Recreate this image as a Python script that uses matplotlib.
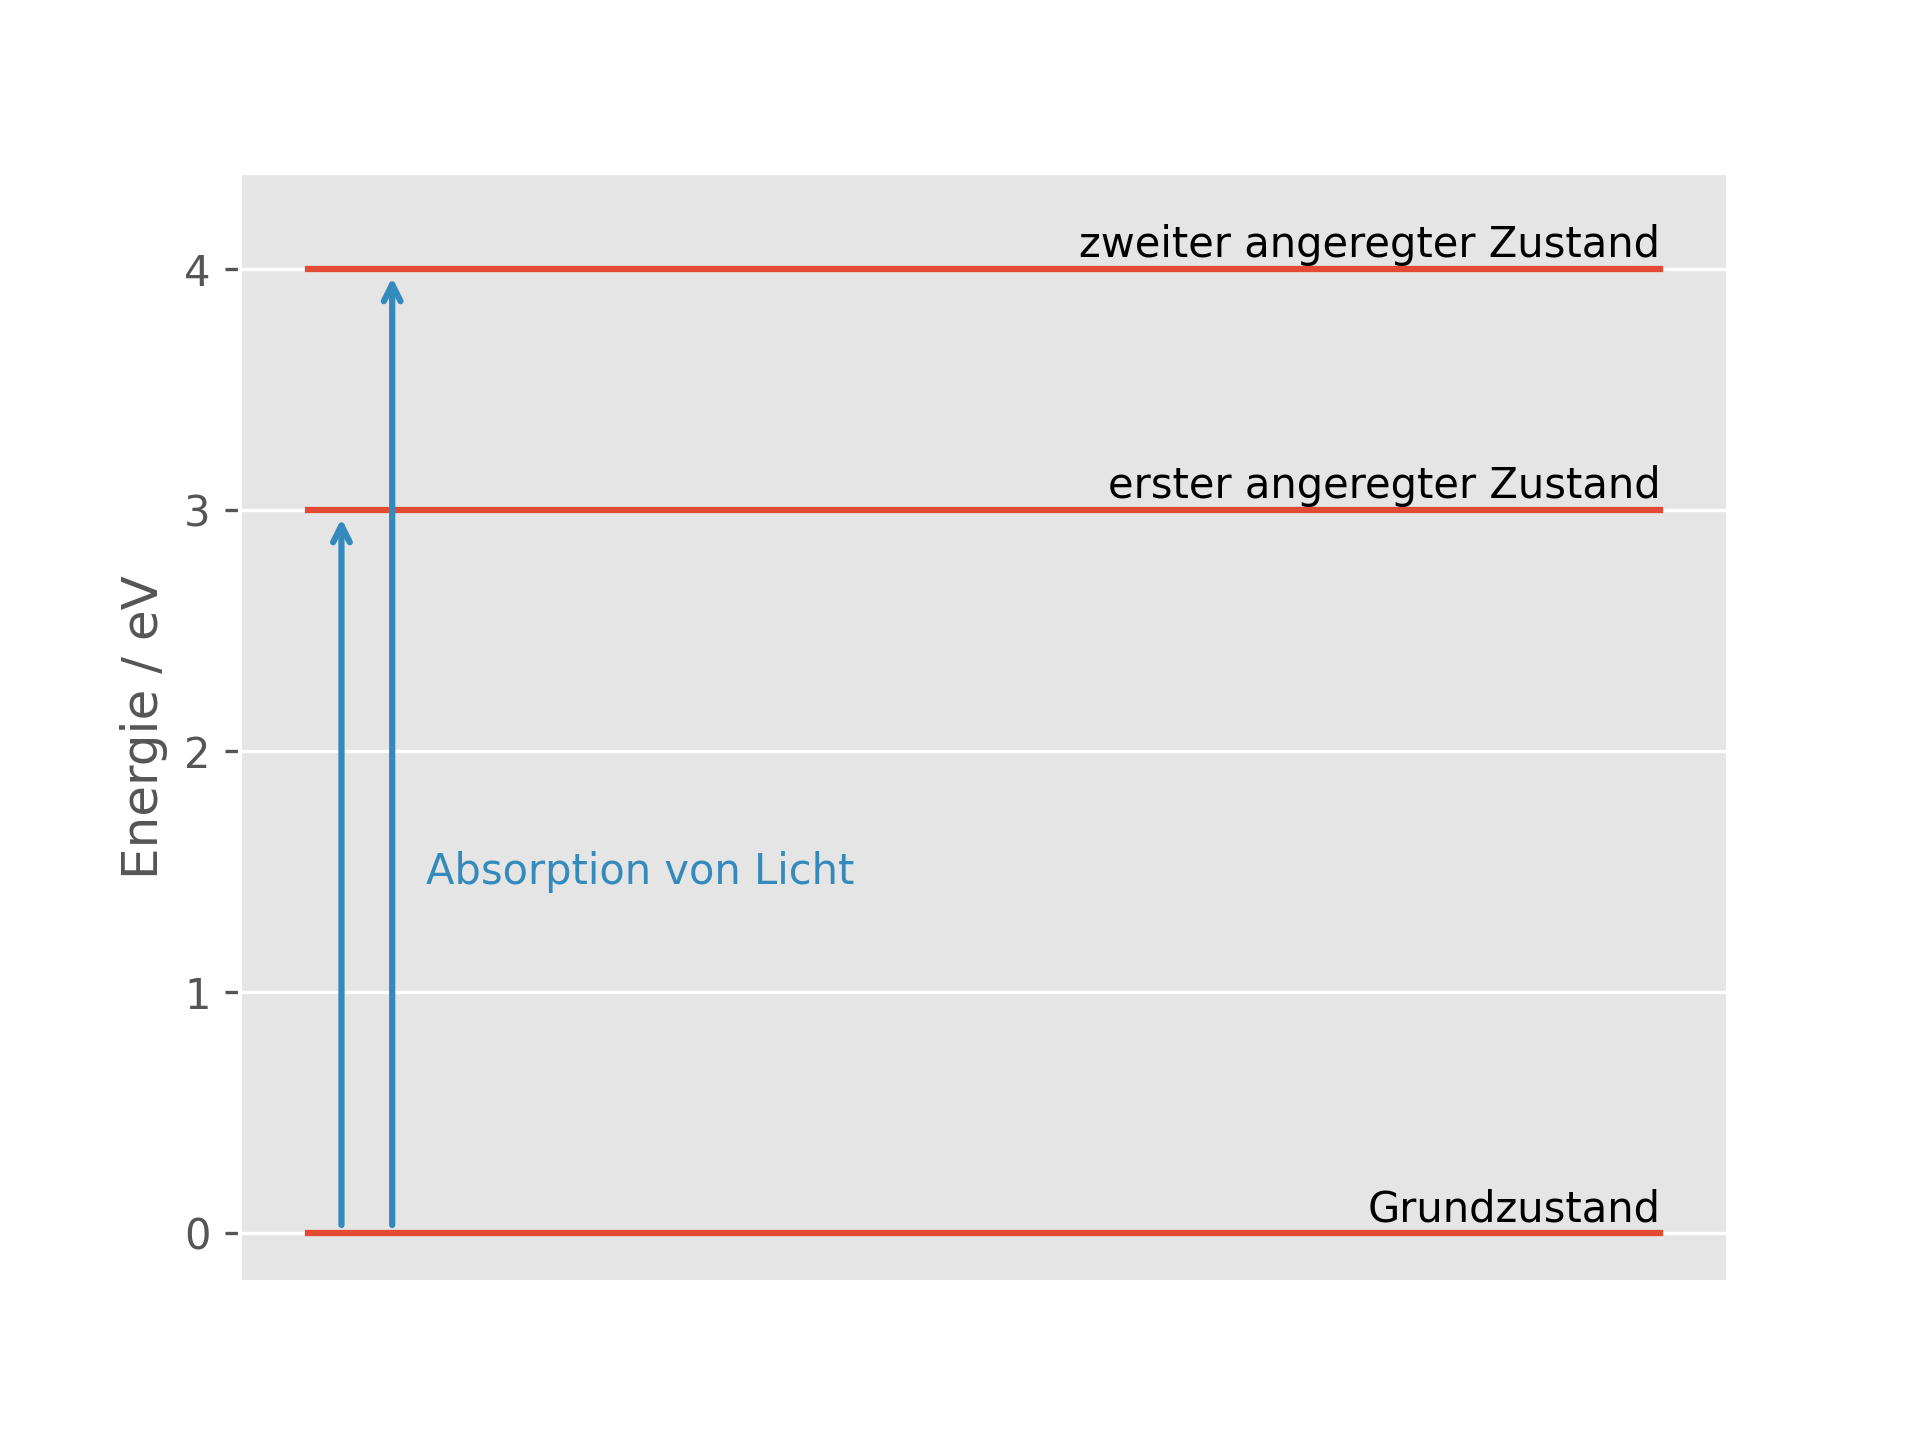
import matplotlib
matplotlib.use('Agg')
import matplotlib.pyplot as plt

plt.style.use('ggplot')

# Energieniveaus in eV
niveaus = [0, 3, 4]
namen = ['Grundzustand', 'erster angeregter Zustand', 'zweiter angeregter Zustand']

# Übergänge (x-Position, von, nach)
pfeil_x = [0.025, 0.0625]
pfeil_von = [0, 0]
pfeil_nach = [3, 4]

fig, ax = plt.subplots(figsize=(6.4, 4.8), dpi=300)

for e, name in zip(niveaus, namen):
    ax.plot([0, 1], [e, e], color='#E24A33')
    ax.text(1, e + 0.05, name, ha='right', va='baseline', color='black')

for x, a, b in zip(pfeil_x, pfeil_von, pfeil_nach):
    ax.annotate('', xy=(x, b), xytext=(x, a),
                arrowprops=dict(arrowstyle='->', color='#348ABD', lw=1.5))

ax.text(0.0875, 1.5, 'Absorption von Licht', color='#348ABD', va='center')

ax.set_ylim(-0.2, 4.4)
ax.set_xticks([])
ax.set_yticks([0, 1, 2, 3, 4])
ax.grid(axis='x', visible=False)
ax.set_ylabel('Energie / eV')

fig.savefig('out.png', dpi=300)
